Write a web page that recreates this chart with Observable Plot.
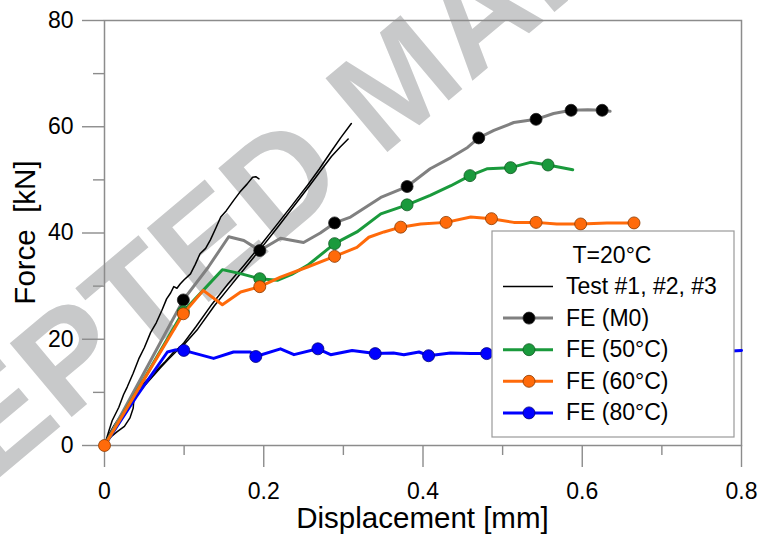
<!DOCTYPE html>
<html><head><meta charset="utf-8">
<script src="https://cdn.jsdelivr.net/npm/d3@7"></script>
<script src="https://cdn.jsdelivr.net/npm/@observablehq/plot@0.6"></script>
<style>
body{margin:0;background:#fff}
#chart svg{display:block}
</style>
</head><body><div id="chart"></div>
<script>
// ---- data (displacement [mm], force [kN]) ----
const test1 = [[0,0],[0.005,2.5],[0.0097,4.7],[0.018,7.2],[0.024,9.6],[0.0285,11],[0.036,13.6],[0.043,16.3],[0.05,18.4],[0.058,21.3],[0.065,23.1],[0.072,25.4],[0.078,27.6],[0.083,28.7],[0.087,29.9],[0.091,29.6],[0.095,30.4],[0.1,31.2],[0.108,32.3],[0.114,34.1],[0.12,36.1],[0.127,37.1],[0.133,38.7],[0.14,41.0],[0.146,43.0],[0.153,44.2],[0.162,46.1],[0.17,47.7],[0.179,49.2],[0.186,50.5],[0.19,50.6],[0.194,50.2]];
const test2 = [[0,0],[0.006,2.2],[0.012,3.8],[0.02,5.6],[0.03,7.6],[0.04,9.4],[0.05,11.2],[0.06,12.9],[0.07,14.6],[0.08,16.2],[0.09,17.7],[0.1,19.4],[0.115,22.4],[0.135,26.6],[0.155,30.4],[0.175,33.9],[0.195,37.5],[0.215,41.3],[0.235,45.1],[0.255,49.0],[0.27,52.1],[0.284,55.2],[0.297,58.0],[0.31,60.6]];
const test3 = [[0,0],[0.008,1.6],[0.016,2.6],[0.025,3.6],[0.032,5.2],[0.036,7.0],[0.037,8.8],[0.041,10.4],[0.05,11.8],[0.062,13.6],[0.075,15.6],[0.088,17.8],[0.1,19.0],[0.117,21.9],[0.138,26.3],[0.158,30.0],[0.178,33.7],[0.197,37.2],[0.217,41.0],[0.237,44.9],[0.257,48.8],[0.272,51.8],[0.285,54.4],[0.296,56.2],[0.306,57.7]];

const feM0Line = [[0,0],[0.05,13.8],[0.099,27.4],[0.13,33.5],[0.156,39.3],[0.175,38.6],[0.195,36.7],[0.221,39.0],[0.25,38.2],[0.271,40.0],[0.289,41.9],[0.309,43.0],[0.347,46.7],[0.38,48.75],[0.409,52.1],[0.435,54.2],[0.456,56.1],[0.47,57.9],[0.489,59.3],[0.514,60.8],[0.542,61.4],[0.564,62.5],[0.586,63.1],[0.607,63.2],[0.625,63.1],[0.635,62.9]];
const feM0Marks = [[0.099,27.4],[0.195,36.7],[0.289,41.9],[0.38,48.75],[0.47,57.9],[0.542,61.4],[0.586,63.1],[0.625,63.1]];

const fe50Line = [[0,0],[0.05,12.6],[0.099,25.2],[0.148,33.1],[0.172,32.3],[0.195,31.4],[0.217,31.1],[0.235,32.2],[0.255,33.9],[0.289,38.0],[0.317,40.2],[0.347,43.6],[0.38,45.3],[0.409,47.1],[0.435,48.9],[0.459,50.8],[0.481,52.1],[0.51,52.3],[0.535,53.3],[0.557,52.8],[0.588,51.9]];
const fe50Marks = [[0.099,25.2],[0.195,31.4],[0.289,38.0],[0.38,45.3],[0.459,50.8],[0.51,52.3],[0.557,52.8]];

const fe60Line = [[0,0],[0.05,12.5],[0.099,24.8],[0.124,29.2],[0.148,26.5],[0.171,28.9],[0.195,29.9],[0.221,31.7],[0.255,33.6],[0.289,35.6],[0.317,37.3],[0.332,39.2],[0.351,40.2],[0.372,41.1],[0.397,41.7],[0.429,42.0],[0.46,43.0],[0.486,42.7],[0.514,42.0],[0.542,42.0],[0.568,41.7],[0.598,41.7],[0.631,41.9],[0.665,41.9]];
const fe60Marks = [[0,0],[0.099,24.8],[0.195,29.9],[0.289,35.6],[0.372,41.1],[0.429,42.0],[0.486,42.7],[0.542,42.0],[0.598,41.7],[0.665,41.9]];

const fe80Line = [[0,0],[0.04,9.2],[0.079,17.6],[0.089,18.0],[0.0996,17.9],[0.137,16.4],[0.162,17.6],[0.183,17.6],[0.19,16.75],[0.221,18.2],[0.238,17.1],[0.268,18.2],[0.284,17.1],[0.311,17.9],[0.34,17.3],[0.363,17.4],[0.376,17.1],[0.395,17.6],[0.407,16.9],[0.4345,17.4],[0.46,17.3],[0.48,17.3],[0.51,17.6],[0.55,17.3],[0.6,17.7],[0.65,17.4],[0.7,17.8],[0.75,17.5],[0.8,17.9]];
const fe80Marks = [[0.0996,17.9],[0.19,16.75],[0.268,18.2],[0.34,17.3],[0.407,16.9],[0.48,17.3],[0.55,17.3],[0.62,17.6],[0.69,17.7],[0.76,17.6]];

const xMajorTicks = [0, 0.2, 0.4, 0.6, 0.8];
const xMinorTicks = [0.1, 0.3, 0.5, 0.7];
const yMajorTicks = [0, 20, 40, 60, 80];
const yMinorTicks = [10, 30, 50, 70];

const xTitle = "Displacement [mm]";
const yTitle = "Force\u00a0 [kN]";
const legendTitle = "T=20°C";
const legendLabels = ["Test #1, #2, #3", "FE (M0)", "FE (50°C)", "FE (60°C)", "FE (80°C)"];
const lineColors = ["#000000", "#808080", "#1a9a3c", "#ff6a0a", "#0000ff"];
const markFills = [null, "#000000", "#1a9a3c", "#ff6a0a", "#0000ff"];
const markStrokes = [null, "#222222", "#0f5a22", "#8a3a00", "#00007a"];

// ---- chart ----
const font = "'Liberation Sans', Arial, sans-serif";
const axisGray = "#8c8c8c";
const X = d => d[0], Y = d => d[1];

const chart = Plot.plot({
  width: 760, height: 536,
  marginLeft: 104, marginRight: 19, marginTop: 20, marginBottom: 91,
  style: {fontFamily: font, fontSize: "23px", background: "#fff", color: "#000"},
  x: {domain: [0, 0.8]},
  y: {domain: [0, 80]},
  marks: [
    Plot.axisX(xMajorTicks, {tickSize: 22, tickPadding: 15, stroke: axisGray, strokeWidth: 1.4, fill: "#000", fontSize: 23, label: null, tickFormat: d => String(d)}),
    Plot.axisX(xMinorTicks, {tickSize: 10, text: null, stroke: axisGray, strokeWidth: 1.4, label: null}),
    Plot.axisY(yMajorTicks, {tickSize: 22, tickPadding: 9, stroke: axisGray, strokeWidth: 1.4, fill: "#000", fontSize: 23, label: null, tickFormat: d => String(d)}),
    Plot.axisY(yMinorTicks, {tickSize: 11, text: null, stroke: axisGray, strokeWidth: 1.4, label: null}),
    Plot.frame({stroke: axisGray, strokeWidth: 1.5}),
    Plot.line(test1, {x: X, y: Y, stroke: lineColors[0], strokeWidth: 1.5}),
    Plot.line(test2, {x: X, y: Y, stroke: lineColors[0], strokeWidth: 1.5}),
    Plot.line(test3, {x: X, y: Y, stroke: lineColors[0], strokeWidth: 1.5}),
    Plot.line(fe80Line, {x: X, y: Y, stroke: lineColors[4], strokeWidth: 3}),
    Plot.dot(fe80Marks, {x: X, y: Y, r: 6, fill: markFills[4], stroke: markStrokes[4], strokeWidth: 0.8}),
    Plot.line(feM0Line, {x: X, y: Y, stroke: lineColors[1], strokeWidth: 3}),
    Plot.dot(feM0Marks, {x: X, y: Y, r: 6, fill: markFills[1], stroke: markStrokes[1], strokeWidth: 0.8}),
    Plot.line(fe50Line, {x: X, y: Y, stroke: lineColors[2], strokeWidth: 3}),
    Plot.dot(fe50Marks, {x: X, y: Y, r: 6, fill: markFills[2], stroke: markStrokes[2], strokeWidth: 0.8}),
    Plot.line(fe60Line, {x: X, y: Y, stroke: lineColors[3], strokeWidth: 3}),
    Plot.dot(fe60Marks, {x: X, y: Y, r: 6, fill: markFills[3], stroke: markStrokes[3], strokeWidth: 0.8})
  ]
});
document.getElementById("chart").appendChild(chart);

const svg = d3.select(chart);

// watermark behind the marks
svg.insert("text", ":first-child")
  .attr("transform", "translate(428,118) rotate(-40)")
  .attr("text-anchor", "middle")
  .attr("font-family", font)
  .attr("font-weight", "bold")
  .attr("font-size", 140)
  .attr("fill", "#c8c9ca")
  .text("ACCEPTED MANUSCRIPT");

// axis titles
svg.append("text")
  .attr("x", 422.5).attr("y", 528)
  .attr("text-anchor", "middle")
  .attr("font-family", font).attr("font-size", 29.5).attr("fill", "#000")
  .text(xTitle);
svg.append("text")
  .attr("transform", "translate(35,232.5) rotate(-90)")
  .attr("text-anchor", "middle")
  .attr("font-family", font).attr("font-size", 29.5).attr("fill", "#000")
  .text(yTitle);

// legend
const lg = svg.append("g").attr("font-family", font).attr("font-size", 23).attr("fill", "#000");
lg.append("rect").attr("x", 492).attr("y", 231).attr("width", 242).attr("height", 206)
  .attr("fill", "#fff").attr("stroke", "#9a9a9a").attr("stroke-width", 1.2);
lg.append("text").attr("x", 612).attr("y", 263).attr("text-anchor", "middle").text(legendTitle);
legendLabels.forEach((lab, i) => {
  const base = 294 + i * 31.6;
  const cy = base - 7.5;
  lg.append("line").attr("x1", 503).attr("x2", 553).attr("y1", cy).attr("y2", cy)
    .attr("stroke", lineColors[i]).attr("stroke-width", i === 0 ? 1.5 : 3);
  if (markFills[i]) {
    lg.append("circle").attr("cx", 529).attr("cy", cy).attr("r", 6)
      .attr("fill", markFills[i]).attr("stroke", markStrokes[i]).attr("stroke-width", 0.8);
  }
  lg.append("text").attr("x", 566).attr("y", base).attr("text-anchor", "start").text(lab);
});
</script></body></html>
